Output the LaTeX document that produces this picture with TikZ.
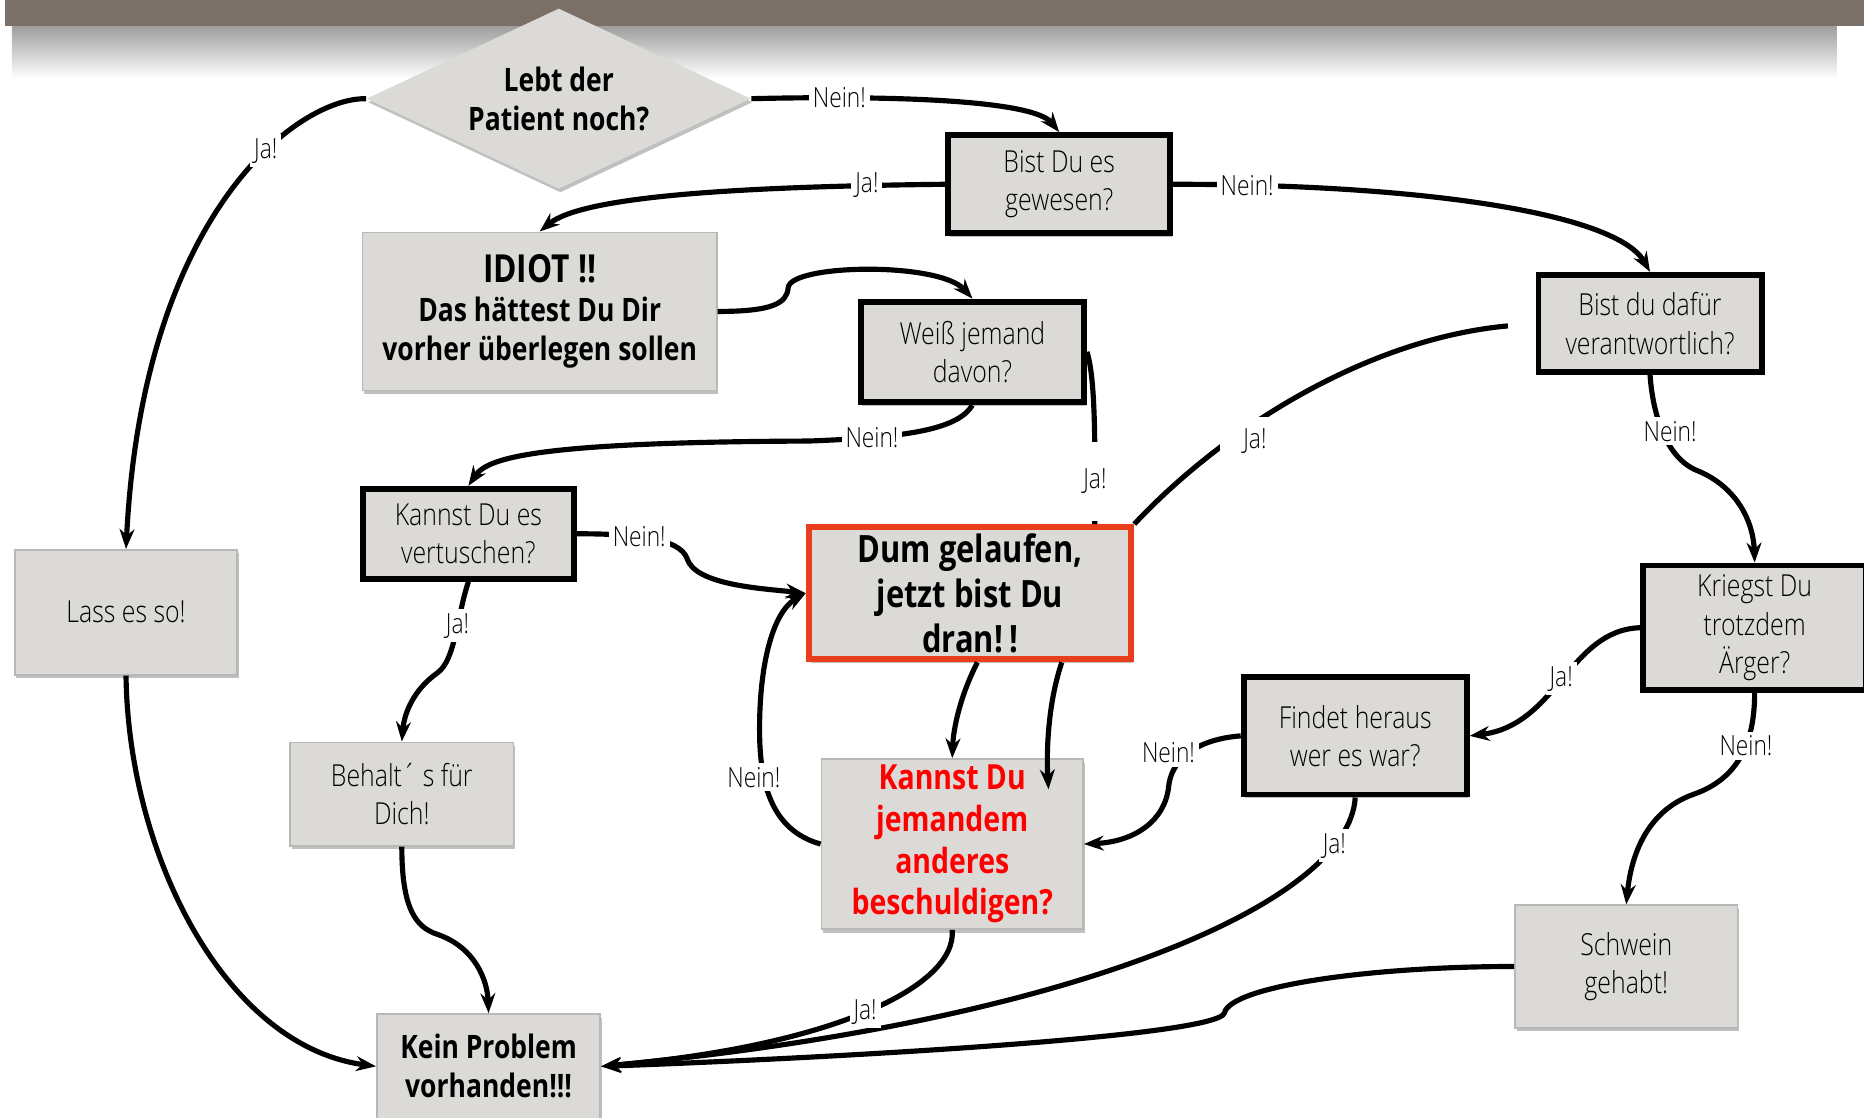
\documentclass[tikz,border=0pt]{standalone}
\usepackage{fontspec}
\setmainfont{Open Sans}[FakeStretch=0.82]
\newfontfamily\thinfont{Open Sans Light}[FakeStretch=0.82]
\usetikzlibrary{shapes.geometric,arrows.meta,shadows}

\definecolor{boxgray}{RGB}{220,218,215}
\definecolor{bartaupe}{RGB}{122,112,103}
\definecolor{alarmred}{RGB}{232,62,28}
\definecolor{textred}{RGB}{255,0,0}

\newcommand{\qfont}{\thinfont\fontsize{15.3}{19.4}\selectfont}
\newcommand{\boldq}{\bfseries\fontsize{16.3}{19.6}\selectfont}
\newcommand{\bigq}{\bfseries\fontsize{19}{22.8}\selectfont}
\newcommand{\redq}{\bfseries\fontsize{17.5}{21}\selectfont}
\newcommand{\lblfont}{\thinfont\fontsize{14}{16.8}\selectfont}

\begin{document}
\begin{tikzpicture}[x=0.6pt,y=-0.6pt,
    softshadow/.style={drop shadow={shadow xshift=0.8pt,shadow yshift=-1.8pt,
        opacity=0.45,fill=black!55}},
    box/.style={rectangle,fill=boxgray,align=center,inner sep=1pt,softshadow,
        font=\qfont},
    plainbox/.style={box,draw=black!28,line width=0.9pt},
    askbox/.style={box,draw=black,line width=3pt},
    flow/.style={line width=2.6pt,-{Stealth[length=10pt,width=7.5pt]}},
    link/.style={line width=2.6pt},
    answer/.style={fill=white,inner sep=2pt,font=\lblfont}
    ]
\useasboundingbox (0,0) rectangle (1568,940);

% title bar, cut off at the top
\fill[bartaupe] (4,0) rectangle (1568,22);
\shade[top color=black!38,bottom color=white] (10,22) rectangle (1545,66);

% start
\node[diamond,aspect=2.1,fill=boxgray,inner sep=0pt,minimum width=194pt,
      minimum height=91pt,font=\boldq,align=center,softshadow]
      (patient) at (470,83) {Lebt der\\Patient noch?};

% questions
\node[askbox,minimum width=112pt,minimum height=49.6pt] (gewesen) at (891,155) {Bist Du es\\gewesen?};
\node[askbox,minimum width=112.6pt,minimum height=50.8pt] (weiss) at (818,296) {Weiß jemand\\davon?};
\node[askbox,minimum width=112.6pt,minimum height=49pt] (dafuer) at (1388,272) {Bist du dafür\\verantwortlich?};
\node[askbox,minimum width=106.6pt,minimum height=45.4pt] (vertuschen) at (394,449) {Kannst Du es\\vertuschen?};
\node[askbox,minimum width=112.6pt,minimum height=62.8pt] (aerger) at (1476,528) {Kriegst Du\\trotzdem\\Ärger?};
\node[askbox,minimum width=112.6pt,minimum height=59.2pt] (findet) at (1140,619) {Findet heraus\\wer es war?};
\node[plainbox,minimum width=132pt,minimum height=85.8pt,font=\redq,text=textred]
      (blame) at (801,710) {Kannst Du\\jemandem\\anderes\\beschuldigen?};

% verdicts
\node[plainbox,minimum width=178.8pt,minimum height=79.8pt,font=\boldq]
      (idiot) at (454,262) {{\fontsize{19.5}{24}\selectfont IDIOT !!}\\Das hättest Du Dir\\vorher überlegen sollen};
\node[plainbox,minimum width=112.2pt,minimum height=63pt] (lass) at (106,515) {Lass es so!};
\node[box,draw=alarmred,line width=3.2pt,minimum width=162.6pt,minimum height=66.6pt,
      font=\bigq] (dran) at (816,499) {Dum gelaufen,\\jetzt bist Du\\dran!\,!};
\node[plainbox,minimum width=112.8pt,minimum height=52.2pt] (behalt) at (338,668) {Behalt´ s für\\Dich!};
\node[plainbox,minimum width=112.2pt,minimum height=61.8pt] (schwein) at (1368,813) {Schwein\\gehabt!};
\node[plainbox,minimum width=112.8pt,minimum height=52.8pt,font=\boldq]
      (keinproblem) at (411,897) {Kein Problem\\vorhanden!!!};

% top of the tree
\draw[flow] (patient.west) .. controls (250,82) and (120,180) .. (lass.north) node[answer,pos=0.37] {Ja!};
\draw[flow] (patient.east) .. controls (760,80) and (870,85) .. (gewesen.north) node[answer,pos=0.2] {Nein!};
\draw[flow] (gewesen.west) .. controls (620,157) and (490,165) .. (idiot.north) node[answer,pos=0.13] {Ja!};
\draw[flow] (gewesen.east) .. controls (1200,155) and (1360,180) .. (dafuer.north) node[answer,pos=0.1] {Nein!};
\draw[flow] (idiot.east) .. controls (650,262) and (662,255) .. (663,242)
      .. controls (665,222) and (790,220) .. (weiss.north);

% middle
\draw[flow] (weiss.south) .. controls (805,362) and (760,368) .. (680,371) node[answer,pos=0.75] {Nein!}
      .. controls (450,372) and (410,385) .. (vertuschen.north);
\draw[link] (weiss.east) .. controls (922,320) and (921,380) .. (dran.29)
      node[answer,pos=0.8,minimum height=40pt] {Ja!};
\draw[link,shorten <=14pt] (dafuer.west) .. controls (1150,285) and (1030,360) .. (dran.north east)
      node[answer,pos=0.7,anchor=west,xshift=-6pt,inner xsep=12pt,inner ysep=6pt] {Ja!};
\draw[flow] (vertuschen.east) .. controls (530,449) and (572,452) .. (578,470) node[answer,pos=0.42] {Nein!}
      .. controls (585,492) and (640,495) .. (dran.west);
\draw[flow] (vertuschen.south) .. controls (384,520) and (383,555) .. (368,566) node[answer,pos=0.4] {Ja!}
      .. controls (348,580) and (340,600) .. (behalt.north);
\draw[flow] (dran.-84) .. controls (808,585) and (802,612) .. (blame.north);
\coordinate (blametip) at (882,664);
\draw[flow] (dran.-37) .. controls (882,590) and (880,630) .. (blametip);
\draw[flow] (blame.west) .. controls (655,700) and (640,670) .. (639,620) node[answer,pos=0.75,xshift=-5pt] {Nein!}
      .. controls (638,560) and (650,515) .. (dran.west);

% right side
\draw[flow] (dafuer.south) .. controls (1390,345) and (1400,385) .. (1428,396) node[answer,pos=0.5,xshift=4pt] {Nein!}
      .. controls (1462,410) and (1475,440) .. (aerger.north);
\draw[flow] (aerger.west) .. controls (1320,530) and (1310,610) .. (findet.east) node[answer,pos=0.5] {Ja!};
\draw[flow] (findet.west) .. controls (1005,622) and (985,640) .. (983,662) node[answer,pos=0.5,xshift=-10pt] {Nein!}
      .. controls (980,690) and (955,708) .. (blame.east);
\draw[flow] (aerger.south) .. controls (1476,625) and (1462,655) .. (1425,668) node[answer,pos=0.4] {Nein!}
      .. controls (1385,682) and (1372,720) .. (schwein.north);

% everything ends here
\draw[flow] (behalt.south) .. controls (338,765) and (350,780) .. (368,786)
      .. controls (400,797) and (410,825) .. (keinproblem.north);
\draw[flow] (lass.south) .. controls (108,720) and (190,880) .. (keinproblem.west);
\draw[flow] (findet.south) .. controls (1135,760) and (900,860) .. (keinproblem.east) node[answer,pos=0.15] {Ja!};
\draw[flow] (blame.south) .. controls (805,830) and (700,880) .. (keinproblem.east) node[answer,pos=0.5] {Ja!};
\draw[flow] (schwein.west) .. controls (1150,813) and (1035,830) .. (1030,852)
      .. controls (1025,872) and (700,890) .. (keinproblem.east);
\end{tikzpicture}
\end{document}
